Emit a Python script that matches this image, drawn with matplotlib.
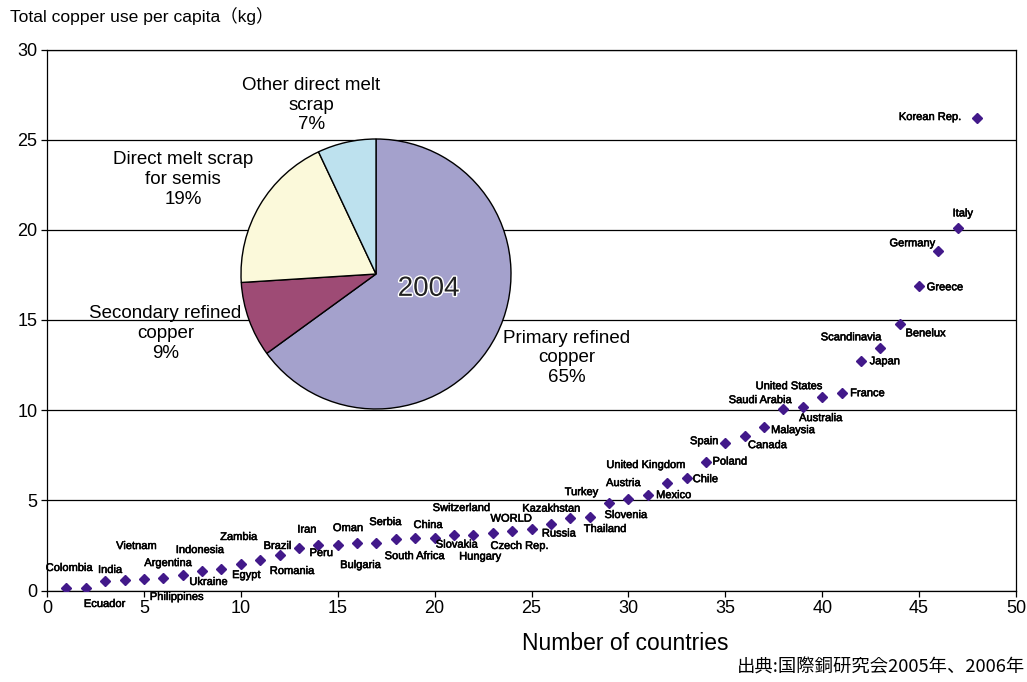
import matplotlib.pyplot as plt
import matplotlib.patheffects as pe
import numpy as np

plt.rcParams['font.family'] = ['Liberation Sans', 'Noto Sans CJK JP']

# copper use per capita (kg), countries ranked from lowest to highest
countries = ['Colombia', 'Ecuador', 'India', 'Vietnam', 'Philippines', 'Argentina',
             'Ukraine', 'Indonesia', 'Egypt', 'Zambia', 'Romania', 'Brazil',
             'Iran', 'Peru', 'Bulgaria', 'Oman', 'Serbia', 'South Africa',
             'China', 'Switzerland', 'Slovakia', 'Hungary', 'Czech Rep.', 'WORLD',
             'Kazakhstan', 'Russia', 'Thailand', 'Turkey', 'Slovenia', 'Austria',
             'Mexico', 'United Kingdom', 'Chile', 'Poland', 'Spain', 'Canada',
             'Malaysia', 'Saudi Arabia', 'Australia', 'United States', 'France', 'Japan',
             'Scandinavia', 'Benelux', 'Greece', 'Germany', 'Italy', 'Korean Rep.']
use_per_capita = [0.14, 0.14, 0.53, 0.58, 0.64, 0.69, 0.86, 1.08, 1.19, 1.47, 1.69, 1.97,
                  2.38, 2.52, 2.52, 2.63, 2.63, 2.85, 2.91, 2.91, 3.10, 3.10, 3.19, 3.32,
                  3.43, 3.66, 4.02, 4.07, 4.85, 5.07, 5.29, 5.96, 6.23, 7.15, 8.17, 8.56,
                  9.06, 10.06, 10.17, 10.72, 10.94, 12.71, 13.43, 14.76, 16.87, 18.81, 20.08, 26.2]

# label offsets from each marker, in pixels
label_dx = [3, 19, 5, 12, 33, 5, 26, -2, 25, -2, 32, -2,
            8, 3, 23, -9, 9, 19, 13, 27, 3, 7, 27, -1,
            20, 8, 35, -8, 17, -5, 26, -21, 19, 24, -21, 23,
            29, -23, 18, -33, 26, 24, -29, 26, 26, -26, 5, -47]
label_dy = [20, -16, 11, 34, -18, 15, -7, 21, -6, 27, -11, 9,
            18, -8, -20, 15, 21, -17, 13, 30, -10, -22, -13, 12,
            20, -9, -11, 25, -12, 16, 0, 18, -1, 0, 2, -9,
            -3, 9, -11, 11, 0, 0, 11, -9, -1, 8, 15, 1]

# 2004 breakdown of copper sources
pie_labels = ['Primary refined\ncopper\n65%', 'Secondary refined\ncopper\n9%',
              'Direct melt scrap\nfor semis\n19%', 'Other direct melt\nscrap\n7%']
pie_shares = [65, 9, 19, 7]
pie_colors = ['#a4a1cc', '#9e4b75', '#fbf9da', '#bde1ee']
pie_label_pos = [(1.41, -0.62), (-1.56, -0.44), (-1.43, 0.70), (-0.48, 1.25)]

W, H = 1027, 682
fig = plt.figure(figsize=(W / 100, H / 100), dpi=100)
ax = fig.add_axes([47 / W, 91.5 / H, 969 / W, 541 / H])

x = np.arange(1, len(use_per_capita) + 1)
ax.plot(x, use_per_capita, 'D', color='#42198a', markersize=5.5, linestyle='none', zorder=3)
thick = [pe.withStroke(linewidth=0.4, foreground='black')]
for i, name in enumerate(countries):
    ax.annotate(name, (x[i], use_per_capita[i]), xytext=(label_dx[i], label_dy[i]),
                textcoords='offset pixels', ha='center', va='center', fontsize=8,
                path_effects=thick)

ax.set_xlim(0, 50)
ax.set_ylim(0, 30)
ax.set_xticks(np.arange(0, 51, 5))
ax.set_yticks(np.arange(0, 31, 5))
ax.yaxis.grid(True, color='black', linewidth=0.9)
ax.set_axisbelow(True)
for s in ax.spines.values():
    s.set_linewidth(0.9)
ax.tick_params(direction='out', length=4, width=0.9, labelsize=13, pad=3)

fig.text(10 / W, 1 - 16 / H, 'Total copper use per capita（kg）', fontsize=12.6, va='center')
fig.text(625 / W, 1 - 643 / H, 'Number of countries', fontsize=16.5, ha='center', va='center')
fig.text(1025 / W, 1 - 668 / H, '出典:国際銅研究会2005年、2006年', fontsize=13.2,
         ha='right', va='center', family=['Noto Sans CJK JP'])

# inset pie
axp = fig.add_axes([241 / W, (H - 409) / H, 270 / W, 270 / H])
wedges, _ = axp.pie(pie_shares, colors=pie_colors, startangle=90, counterclock=False,
                    wedgeprops=dict(edgecolor='black', linewidth=1))
for w in wedges:
    w.set_clip_on(False)
axp.set_xlim(-1, 1)
axp.set_ylim(-1, 1)
axp.set_axis_off()
for lbl, (px, py) in zip(pie_labels, pie_label_pos):
    axp.text(px, py, lbl, ha='center', va='center', fontsize=13.5, linespacing=1.2)
axp.text(0.39, -0.11, '2004', ha='center', va='center', fontsize=20, color='#222222',
         path_effects=[pe.withStroke(linewidth=2, foreground='white')])

fig.savefig('out.png', dpi=100)
